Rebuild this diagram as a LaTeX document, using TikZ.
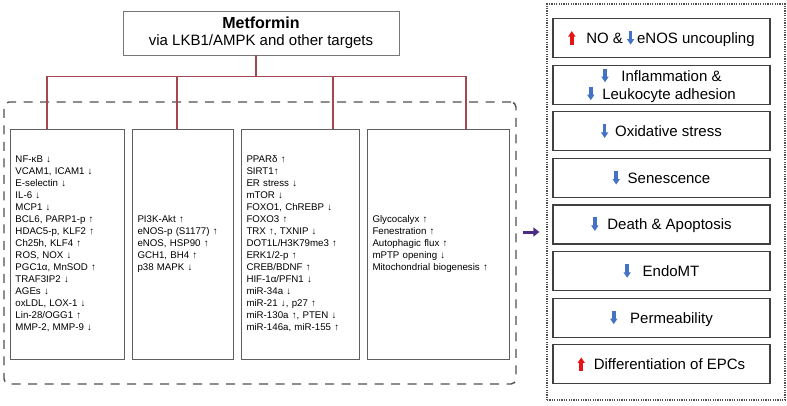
\documentclass[tikz,border=0pt]{standalone}
\usepackage{fontspec}
\setmainfont{Liberation Sans}
\usetikzlibrary{arrows.meta}
\definecolor{treered}{RGB}{165,70,80}
\definecolor{boxgray}{RGB}{95,95,95}
\definecolor{framegray}{RGB}{80,80,80}
\definecolor{markblue}{RGB}{68,114,196}
\definecolor{markred}{RGB}{230,20,20}
\definecolor{flowpurple}{RGB}{75,45,135}
\tikzstyle{drug} = [draw=boxgray!85, line width=0.9pt, align=center, minimum width=276pt, minimum height=44pt, inner sep=0pt, font=\fontsize{15}{17.5}\selectfont]
\tikzstyle{factor} = [draw=boxgray, line width=0.9pt, align=left, minimum height=230pt, inner xsep=5.5pt, inner ysep=0pt, font=\fontsize{9.7}{12}\selectfont]
\tikzstyle{effect} = [draw=black!75, line width=1.2pt, align=center, minimum width=217pt, minimum height=39pt, inner sep=0pt, font=\fontsize{15}{18}\selectfont]
\tikzstyle{groupframe} = [draw=framegray, line width=1.4pt, dash pattern=on 9pt off 7.5pt, rounded corners=5pt]
\tikzstyle{outframe} = [draw=framegray, line width=1.2pt, dash pattern=on 1.2pt off 1.2pt]
\tikzstyle{branch} = [draw, line width=1.2pt, color=treered]
\tikzstyle{flow} = [draw, line width=3pt, color=flowpurple, -{Triangle[length=6pt,width=9pt]}]
\newcommand{\incr}{\tikz[baseline=0pt]{\path (-3pt,0pt) rectangle (3pt,12pt); \draw[line width=3.6pt, markred, -{Triangle[length=5.5pt,width=7pt]}] (0pt,-1pt) -- (0pt,12.5pt);}}
\newcommand{\decr}{\tikz[baseline=0pt]{\path (-3pt,0pt) rectangle (3pt,12pt); \draw[line width=3.6pt, markblue, -{Triangle[length=5.5pt,width=7pt]}] (0pt,12.5pt) -- (0pt,-1pt);}}
\newcommand{\drug}[2]{node (#1) [drug] {#2}}
\newcommand{\factor}[3]{node (f#1) [factor, text width=#2] {#3}}
\newcommand{\effect}[2]{node (e#1) [effect] {#2}}

\begin{document}
\begin{tikzpicture}[x=1pt,y=-1pt]
\useasboundingbox (0,0) rectangle (787,405);
\path (260,243) node (frame) [groupframe, minimum width=512pt, minimum height=282pt] {};
\path (666,202) node (outcome) [outframe, minimum width=238pt, minimum height=396pt] {};

\path (261,33) \drug{m}{{\fontsize{16}{17}\selectfont\bfseries Metformin}\\via LKB1/AMPK and other targets};

\path (m)+(-194,211) \factor{1}{103pt}{NF-κB ↓\\VCAM1, ICAM1 ↓\\E-selectin ↓\\IL-6 ↓\\MCP1 ↓\\BCL6, PARP1-p ↑\\HDAC5-p, KLF2 ↑\\Ch25h, KLF4 ↑\\ROS, NOX ↓\\PGC1α, MnSOD ↑\\TRAF3IP2 ↓\\AGEs ↓\\oxLDL, LOX-1 ↓\\Lin-28/OGG1 ↑\\MMP-2, MMP-9 ↓};
\path (f1)+(115.5,0) \factor{2}{90pt}{PI3K-Akt ↑\\eNOS-p (S1177) ↑\\eNOS, HSP90 ↑\\GCH1, BH4 ↑\\p38 MAPK ↓};
\path (f2)+(117.5,0) \factor{3}{107pt}{PPARδ ↑\\SIRT1↑\\ER stress ↓\\mTOR ↓\\FOXO1, ChREBP ↓\\FOXO3 ↑\\TRX ↑, TXNIP ↓\\DOT1L/H3K79me3 ↑\\ERK1/2-p ↑\\CREB/BDNF ↑\\HIF-1α/PFN1 ↓\\miR-34a ↓\\miR-21 ↓, p27 ↑\\miR-130a ↑, PTEN ↓\\miR-146a, miR-155 ↑};
\path (f3)+(138,0) \factor{4}{131pt}{Glycocalyx ↑\\Fenestration ↑\\Autophagic flux ↑\\mPTP opening ↓\\Mitochondrial biogenesis ↑};

% metformin to the four groups
\path [branch] ([xshift=-5pt]m.south) -- ++(0,22);
\path [branch] ([xshift=-20pt]f1.north) -- ++(0,-52) -| ([xshift=28pt]f4.north);
\path [branch] ([xshift=-5.5pt]f2.north) -- ++(0,-52);
\path [branch] ([xshift=33pt]f3.north) -- ++(0,-52);

% endothelial outcomes
\path (m)+(400.5,5) \effect{1}{\incr\hspace{11pt}NO \& \decr\hspace{3pt}eNOS uncoupling};
\path (e1)+(0,46.6) \effect{2}{\decr\hspace{13pt}Inflammation \&\\\decr\hspace{8pt}Leukocyte adhesion};
\path (e2)+(0,46.6) \effect{3}{\decr\hspace{7pt}Oxidative stress};
\path (e3)+(0,46.6) \effect{4}{\decr\hspace{8pt}Senescence};
\path (e4)+(0,46.6) \effect{5}{\decr\hspace{9pt}Death \& Apoptosis};
\path (e5)+(0,46.6) \effect{6}{\decr\hspace{12pt}EndoMT};
\path (e6)+(0,46.6) \effect{7}{\decr\hspace{13pt}Permeability};
\path (e7)+(0,46.6) \effect{8}{\incr\hspace{9pt}Differentiation of EPCs};

\path [flow] ([xshift=6pt,yshift=11pt]frame.east) -- ([xshift=-7pt,yshift=-30pt]outcome.west);
\end{tikzpicture}
\end{document}
